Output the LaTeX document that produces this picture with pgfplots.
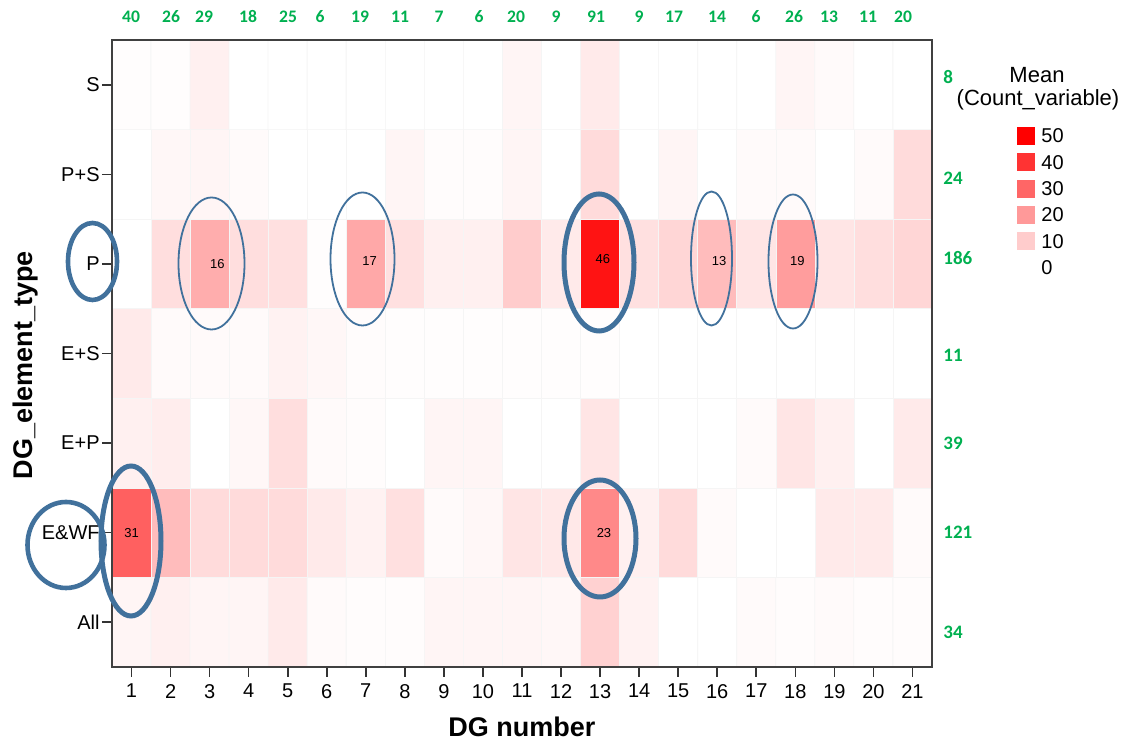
\documentclass[border=0pt]{standalone}
\usepackage{fontspec}
\setmainfont{Liberation Sans}
\newfontfamily\calibri{Carlito}
\usepackage{pgfplots}
\pgfplotsset{compat=1.18}
\definecolor{annot}{RGB}{65,113,156}
\definecolor{cnt}{RGB}{0,176,80}
\newcommand{\tK}{\fontsize{10}{12}\selectfont}
\newcommand{\tG}{\calibri\bfseries\fontsize{8.8}{10}\selectfont}

\begin{document}
\begin{tikzpicture}
\begin{axis}[
  at={(0,0)}, anchor=south west,
  scale only axis, width=410pt, height=313.5pt,
  xmin=0.5, xmax=21.5, ymin=-0.5, ymax=6.5,
  xtick={1,...,21}, ytick={0,...,6},
  yticklabels={All,E\&WF,E+P,E+S,P,P+S,S},
  xtick pos=left, ytick pos=left,
  tick align=outside, major tick length=5pt,
  tick style={black!80,line width=0.8pt},
  axis on top,
  axis line style={black!75,line width=1.2pt},
  /pgf/number format/assume math mode=true,
  tick label style={font=\tK},
  yticklabel style={inner sep=1pt},
  xlabel={\textbf{DG number}}, ylabel={\textbf{DG\_element\_type}},
  label style={font=\fontsize{13.5}{16}\selectfont},
  xlabel style={at={(axis description cs:0.5,-0.0957)},anchor=center},
  ylabel style={at={(axis description cs:-0.106,0.481)},anchor=center},
  colormap={whitered}{rgb255=(255,255,255) rgb255=(255,0,0)},
  point meta min=0, point meta max=50,
  clip=false,
]
% rows: 0=All 1=E&WF 2=E+P 3=E+S 4=P 5=P+S 6=S ; mean count per cell
\addplot[matrix plot*, mesh/cols=21, point meta=explicit, draw=black!4, line width=0.3pt]
coordinates {
(1,0)[2] (2,0)[3] (3,0)[2] (4,0)[2] (5,0)[4] (6,0)[1] (7,0)[0.5] (8,0)[0.5] (9,0)[2] (10,0)[2] (11,0)[2] (12,0)[1.5] (13,0)[9] (14,0)[2.5] (15,0)[0] (16,0)[0] (17,0)[1] (18,0)[0.5] (19,0)[1] (20,0)[0.5] (21,0)[0.5]
(1,1)[31] (2,1)[13] (3,1)[7] (4,1)[7] (5,1)[7] (6,1)[4] (7,1)[2.5] (8,1)[6] (9,1)[1] (10,1)[1.5] (11,1)[5] (12,1)[4.5] (13,1)[23] (14,1)[3] (15,1)[7] (16,1)[1] (17,1)[0] (18,1)[0] (19,1)[4] (20,1)[4] (21,1)[1]
(1,2)[3] (2,2)[3.5] (3,2)[0] (4,2)[1.5] (5,2)[6.5] (6,2)[1] (7,2)[0.5] (8,2)[0] (9,2)[2] (10,2)[2] (11,2)[0] (12,2)[0] (13,2)[5] (14,2)[0] (15,2)[0] (16,2)[0] (17,2)[1] (18,2)[5] (19,2)[3] (20,2)[0] (21,2)[4]
(1,3)[4] (2,3)[1] (3,3)[1] (4,3)[1] (5,3)[2.5] (6,3)[1.5] (7,3)[0.5] (8,3)[0.3] (9,3)[0.3] (10,3)[0.3] (11,3)[0.3] (12,3)[0.3] (13,3)[0.3] (14,3)[0] (15,3)[0] (16,3)[0] (17,3)[0] (18,3)[0] (19,3)[0] (20,3)[0] (21,3)[0]
(1,4)[0] (2,4)[6.5] (3,4)[16] (4,4)[6.5] (5,4)[6] (6,4)[0.3] (7,4)[17] (8,4)[6] (9,4)[3] (10,4)[3] (11,4)[10] (12,4)[4] (13,4)[46] (14,4)[6] (15,4)[8] (16,4)[13] (17,4)[5] (18,4)[19] (19,4)[5] (20,4)[6.5] (21,4)[8]
(1,5)[0] (2,5)[1.5] (3,5)[2] (4,5)[1] (5,5)[0] (6,5)[0] (7,5)[0] (8,5)[2] (9,5)[0.5] (10,5)[0.5] (11,5)[2] (12,5)[0] (13,5)[7] (14,5)[0] (15,5)[2] (16,5)[0] (17,5)[1] (18,5)[1] (19,5)[0] (20,5)[1] (21,5)[7]
(1,6)[0.3] (2,6)[0.3] (3,6)[3] (4,6)[0] (5,6)[0] (6,6)[0] (7,6)[0] (8,6)[0] (9,6)[0] (10,6)[0] (11,6)[2] (12,6)[0] (13,6)[4] (14,6)[0] (15,6)[0] (16,6)[0] (17,6)[0] (18,6)[2] (19,6)[1] (20,6)[0] (21,6)[0]
};
% values written in the highlighted cells
\begin{scope}[font=\fontsize{6.5}{8}\selectfont]
\node at (axis cs:3.2,4) {16};
\node at (axis cs:7.1,4.03) {17};
\node at (axis cs:13.07,4.05) {46};
\node at (axis cs:16.05,4.03) {13};
\node at (axis cs:18.05,4.03) {19};
\node at (axis cs:1,1) {31};
\node at (axis cs:13.1,1) {23};
\end{scope}
\end{axis}

% ---------- annotations, in pixel units of the reference ----------
\begin{scope}[x=0.5pt,y=-0.5pt,shift={(-56pt,333.5pt)}]
\path[use as bounding box] (0,0) rectangle (1131,742);
% ellipses
\draw[annot,line width=2.3pt] (92.5,261.5) ellipse [x radius=24.5,y radius=38.5];
\draw[annot,line width=2.3pt] (66,545) ellipse [x radius=38.5,y radius=43];
\draw[annot,line width=2.5pt] (131,541) ellipse [x radius=30,y radius=75];
\draw[annot,line width=2.5pt] (600,538.5) ellipse [x radius=36,y radius=58.5];
\draw[annot,line width=2.5pt] (599,262.5) ellipse [x radius=35,y radius=68.5];
\draw[annot,line width=0.9pt] (211.5,263.5) ellipse [x radius=33,y radius=66];
\draw[annot,line width=0.9pt] (362.5,259) ellipse [x radius=32,y radius=66.5];
\draw[annot,line width=0.9pt] (711.5,258.5) ellipse [x radius=20.5,y radius=67];
\draw[annot,line width=0.9pt] (793,261.5) ellipse [x radius=24.5,y radius=67];
% column totals
\foreach \xx/\v in {131/40,171/26,204/29,248/18,288/25,320/6,360/19,400/11,439/7,479/6,516/20,
                    556/9,596/91,639/9,674/17,717/14,756/6,794/26,829/13,868/11,903/20}
  \node[font=\tG,text=cnt] at (\xx,17) {\v};
% row totals
\foreach \yy/\v in {77/8,178/24,258/186,355/11,443/39,532/121,632/34}
  \node[font=\calibri\bfseries\fontsize{9.5}{11}\selectfont,text=cnt,anchor=west,inner sep=0pt] at (943,\yy) {\v};
% legend
\node[font=\fontsize{11}{13}\selectfont] at (1037,75) {Mean};
\node[font=\fontsize{11}{13}\selectfont] at (1038,100) {(Count\_variable)};
\foreach \k/\c/\lab in {0/100/50,1/80/40,2/60/30,3/40/20,4/20/10}{
  \fill[red!\c!white] (1017,{127+\k*26.3}) rectangle (1035,{145+\k*26.3});
  \node[font=\fontsize{10}{12}\selectfont,anchor=west,inner sep=0pt] at (1041,{136+\k*26.3}) {\lab};
}
\node[font=\fontsize{10}{12}\selectfont,anchor=west,inner sep=0pt] at (1041,268) {0};
\end{scope}
\end{tikzpicture}
\end{document}
